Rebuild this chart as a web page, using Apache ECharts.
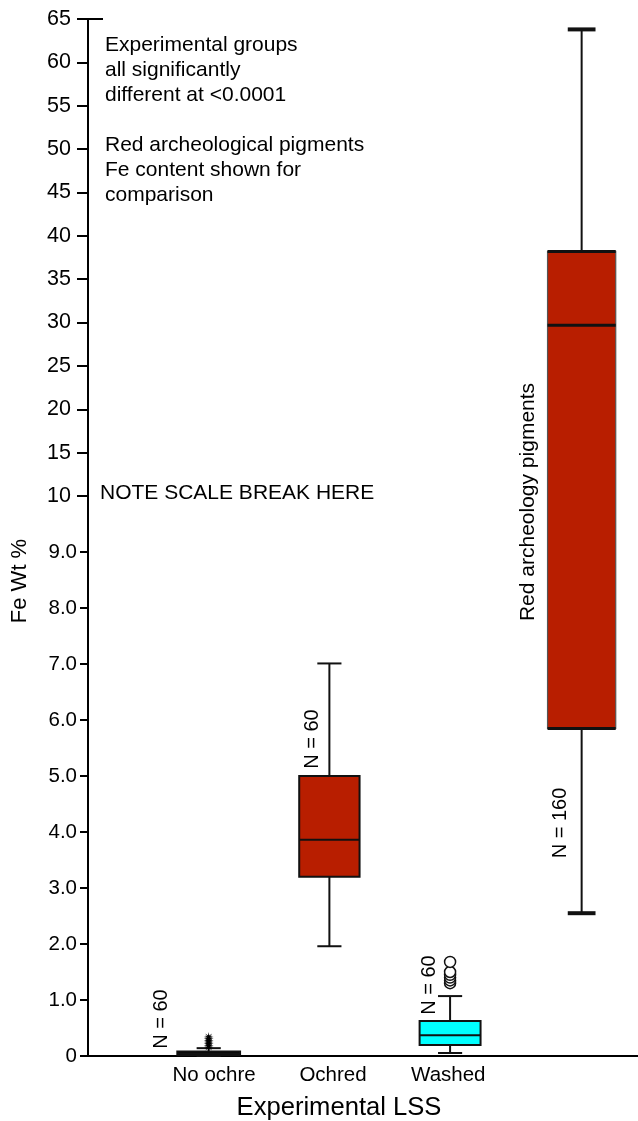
<!DOCTYPE html>
<html>
<head>
<meta charset="utf-8">
<script src="https://cdn.jsdelivr.net/npm/echarts@6.0.0/dist/echarts.min.js"></script>
<style>
  html, body { margin: 0; padding: 0; background: #ffffff; }
  #chart { width: 638px; height: 1121px; }
</style>
</head>
<body>
<div id="chart"></div>
<script>
// ---------------- data ----------------
const categories   = ['No ochre', 'Ochred', 'Washed', 'Red archeology pigments'];
const whiskerLow   = [0.00, 1.96, 0.054, 2.55];
const quart1       = [0.02, 3.20, 0.196, 5.85];
const medians      = [0.04, 3.86, 0.37, 29.7];
const quart3       = [0.08, 5.00, 0.625, 38.2];
const whiskerHigh  = [0.14, 7.01, 1.07, 63.8];
const nCounts      = [60, 60, 60, 160];
const noOchreExtremes = [0.16, 0.19, 0.22, 0.25, 0.28, 0.31, 0.34];
const washedOutliers  = [1.30, 1.35, 1.40, 1.45, 1.50, 1.68];
const lowerTickValues = [0, 1, 2, 3, 4, 5, 6, 7, 8, 9];
const upperTickValues = [10, 15, 20, 25, 30, 35, 40, 45, 50, 55, 60, 65];

// ---------------- layout / style ----------------
const FONT = '"Liberation Sans", Arial, Helvetica, sans-serif';
const BREAK = 10;          // scale break value
const UPPER_K = 0.15487;   // compression of the scale above the break
function T(v) { return v <= BREAK ? v : BREAK + (v - BREAK) * UPPER_K; }
const Y_MAX = T(65);

const groupX  = [1, 2, 3, 4.09];
const xLabelAt = [1.045, 2.03, 2.985];
const boxW    = [0.52, 0.50, 0.505, 0.565];
const capW    = [0.20, 0.20, 0.20, 0.23];
const fills   = ['#000000', '#B81E00', '#00FFFF', '#B81E00'];

const boxData = categories.map((c, i) => [
  groupX[i], T(whiskerLow[i]), T(quart1[i]), T(medians[i]), T(quart3[i]), T(whiskerHigh[i])
]);

function renderBox(params, api) {
  const i = params.dataIndex;
  const x = api.value(0);
  const p = k => api.coord([x, api.value(k)]);
  const pLow = p(1), pQ1 = p(2), pMed = p(3), pQ3 = p(4), pHigh = p(5);
  const cx = pLow[0];
  const halfBox = api.size([boxW[i], 0])[0] / 2;
  const halfCap = api.size([capW[i], 0])[0] / 2;
  const heavy = i === 3;
  const ink = '#111111';
  const ln = (x1, y1, x2, y2, w) => ({
    type: 'line',
    shape: { x1: x1, y1: y1, x2: x2, y2: y2 },
    style: { stroke: ink, lineWidth: w }
  });
  const capLW = heavy ? 4 : 2;
  const children = [
    ln(cx, pLow[1], cx, pQ1[1], 2),
    ln(cx, pQ3[1], cx, pHigh[1], 2),
    ln(cx - halfCap, pLow[1], cx + halfCap, pLow[1], capLW),
    ln(cx - halfCap, pHigh[1], cx + halfCap, pHigh[1], capLW),
    {
      type: 'rect',
      shape: { x: cx - halfBox, y: pQ3[1], width: halfBox * 2, height: pQ1[1] - pQ3[1] },
      style: { fill: fills[i], stroke: heavy ? '#555555' : ink, lineWidth: heavy ? 1.2 : 2 }
    },
    ln(cx - halfBox, pMed[1], cx + halfBox, pMed[1], heavy ? 3 : 2)
  ];
  if (heavy) {
    children.push(ln(cx - halfBox, pQ3[1], cx + halfBox, pQ3[1], 3));
    children.push(ln(cx - halfBox, pQ1[1], cx + halfBox, pQ1[1], 3));
  }
  return { type: 'group', children: children };
}

const chart = echarts.init(document.getElementById('chart'), null, { renderer: 'canvas' });

const baseY = {
  type: 'value', position: 'left', min: 0, max: Y_MAX,
  splitLine: { show: false }
};

const option = {
  backgroundColor: '#ffffff',
  animation: false,
  grid: { left: 88, right: 0, top: 19, bottom: 65, outerBoundsMode: 'none', containLabel: false },
  xAxis: {
    type: 'value', min: 0, max: 4.557,
    axisLine: { show: true, onZero: false, lineStyle: { color: '#000', width: 2 } },
    axisTick: { show: false },
    splitLine: { show: false },
    axisLabel: {
      customValues: xLabelAt,
      margin: 9,
      color: '#000', fontFamily: FONT, fontSize: 20.5,
      formatter: function (v) {
        let best = 0;
        xLabelAt.forEach((a, k) => { if (Math.abs(a - v) < Math.abs(xLabelAt[best] - v)) best = k; });
        return categories[best];
      }
    },
    name: 'Experimental LSS',
    nameLocation: 'middle',
    nameGap: 39,
    nameTextStyle: { color: '#000', fontFamily: FONT, fontSize: 25.6, padding: [0, 48, 0, 0] }
  },
  yAxis: [
    Object.assign({}, baseY, {
      axisLine: { show: true, lineStyle: { color: '#000', width: 2 } },
      axisTick: { show: true, length: 8, customValues: lowerTickValues.map(T), lineStyle: { color: '#000', width: 2 } },
      axisLabel: {
        customValues: lowerTickValues.map(T), margin: 11,
        color: '#000', fontFamily: FONT, fontSize: 20.5,
        formatter: v => (Math.abs(v) < 1e-9 ? '0' : v.toFixed(1))
      }
    }),
    Object.assign({}, baseY, {
      axisLine: { show: false },
      axisTick: { show: true, length: 11, customValues: upperTickValues.map(T), lineStyle: { color: '#000', width: 2 } },
      axisLabel: {
        customValues: upperTickValues.map(T), margin: 17,
        color: '#000', fontFamily: FONT, fontSize: 21.5,
        formatter: v => String(Math.round(BREAK + (v - BREAK) / UPPER_K))
      }
    }),
    Object.assign({}, baseY, {
      axisLine: { show: false },
      axisTick: { show: true, inside: true, length: 15, customValues: [T(65)], lineStyle: { color: '#000', width: 2 } },
      axisLabel: { show: false }
    })
  ],
  series: [
    {
      type: 'custom',
      name: 'Fe Wt %',
      xAxisIndex: 0, yAxisIndex: 0,
      renderItem: renderBox,
      encode: { x: 0, y: [1, 2, 3, 4, 5] },
      data: boxData,
      z: 2
    },
    {
      type: 'scatter',
      name: 'Washed outliers',
      yAxisIndex: 0,
      symbol: 'circle',
      symbolSize: 11,
      itemStyle: { color: '#ffffff', borderColor: '#111111', borderWidth: 1.5, opacity: 1 },
      data: washedOutliers.map(v => [groupX[2], T(v)]),
      z: 3
    },
    {
      type: 'scatter',
      name: 'No ochre extremes',
      yAxisIndex: 0,
      symbol: 'path://M50 0 L56 36 L85 15 L64 44 L100 50 L64 56 L85 85 L56 64 L50 100 L44 64 L15 85 L36 56 L0 50 L36 44 L15 15 L44 36 Z',
      symbolSize: 10,
      itemStyle: { color: '#000000', opacity: 1 },
      data: noOchreExtremes.map(v => [groupX[0], T(v)]),
      z: 3
    }
  ],
  graphic: {
    elements: [
      {
        type: 'text', x: 105, y: 33,
        style: {
          text: 'Experimental groups\nall significantly\ndifferent at <0.0001\n\nRed archeological pigments\nFe content shown for\ncomparison',
          fontFamily: FONT, fontSize: 21, lineHeight: 25, fill: '#000',
          align: 'left', verticalAlign: 'top'
        }
      },
      {
        type: 'text', x: 100, y: 493,
        style: { text: 'NOTE SCALE BREAK HERE', fontFamily: FONT, fontSize: 21, fill: '#000', align: 'left', verticalAlign: 'middle' }
      },
      {
        type: 'text', x: 20, y: 581, rotation: Math.PI / 2,
        style: { text: 'Fe Wt %', fontFamily: FONT, fontSize: 22, fill: '#000', align: 'center', verticalAlign: 'middle' }
      },
      {
        type: 'text', x: 528, y: 502, rotation: Math.PI / 2,
        style: { text: 'Red archeology pigments', fontFamily: FONT, fontSize: 21, fill: '#000', align: 'center', verticalAlign: 'middle' }
      },
      {
        type: 'text', x: 161, y: 1019, rotation: Math.PI / 2,
        style: { text: 'N = ' + nCounts[0], fontFamily: FONT, fontSize: 20, fill: '#000', align: 'center', verticalAlign: 'middle' }
      },
      {
        type: 'text', x: 312, y: 739, rotation: Math.PI / 2,
        style: { text: 'N = ' + nCounts[1], fontFamily: FONT, fontSize: 20, fill: '#000', align: 'center', verticalAlign: 'middle' }
      },
      {
        type: 'text', x: 429, y: 985, rotation: Math.PI / 2,
        style: { text: 'N = ' + nCounts[2], fontFamily: FONT, fontSize: 20, fill: '#000', align: 'center', verticalAlign: 'middle' }
      },
      {
        type: 'text', x: 560, y: 823, rotation: Math.PI / 2,
        style: { text: 'N = ' + nCounts[3], fontFamily: FONT, fontSize: 20, fill: '#000', align: 'center', verticalAlign: 'middle' }
      }
    ]
  }
};

chart.setOption(option);
</script>
</body>
</html>
